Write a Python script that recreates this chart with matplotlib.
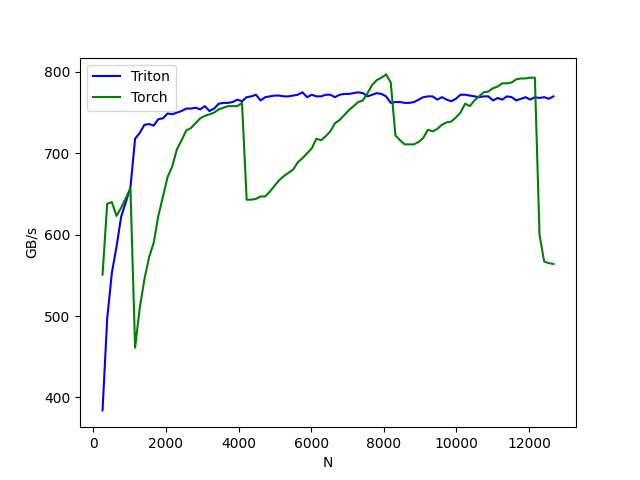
import matplotlib
matplotlib.use("Agg")
import matplotlib.pyplot as plt

N = [128 * i for i in range(2, 100)]

triton = [384, 497, 553, 585, 622, 640, 658, 718, 725, 735,
          736, 734, 742, 743, 749, 748, 750, 752, 755, 755,
          756, 754, 758, 752, 755, 761, 762, 762, 763, 766,
          764, 769, 770, 772, 765, 769, 770, 771, 771, 770,
          770, 771, 772, 775, 769, 772, 770, 770, 772, 772,
          769, 772, 773, 773, 774, 775, 774, 770, 772, 774,
          773, 770, 762, 763, 763, 762, 762, 763, 766, 769,
          770, 770, 766, 769, 766, 764, 767, 772, 772, 771,
          770, 769, 770, 770, 765, 768, 766, 770, 769, 765,
          767, 769, 766, 769, 768, 769, 767, 770]

torch = [551, 638, 640, 623, 633, 645, 657, 461, 510, 545,
         572, 590, 623, 647, 671, 684, 705, 716, 728, 731,
         737, 743, 746, 748, 750, 754, 756, 758, 758, 758,
         762, 643, 643, 644, 647, 647, 653, 660, 667, 672,
         676, 680, 689, 694, 700, 706, 718, 716, 721, 727,
         737, 741, 747, 753, 758, 763, 765, 774, 784, 790,
         793, 797, 787, 722, 716, 711, 711, 711, 714, 719,
         729, 727, 730, 735, 738, 739, 744, 750, 761, 758,
         765, 770, 775, 776, 780, 782, 786, 786, 787, 791,
         792, 792, 793, 793, 600, 567, 565, 564]

fig, ax = plt.subplots(figsize=(6.4, 4.8), dpi=100)
ax.plot(N, triton, color="blue", label="Triton")
ax.plot(N, torch, color="green", label="Torch")
ax.set_xlabel("N")
ax.set_ylabel("GB/s")
ax.legend(loc="upper left")
fig.savefig("out.png", dpi=100)
